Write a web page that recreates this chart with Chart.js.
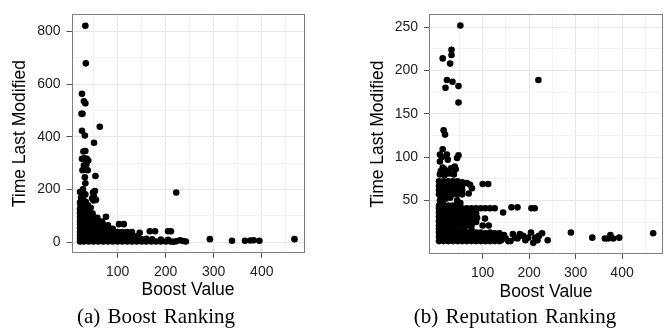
<!DOCTYPE html>
<html>
<head>
<meta charset="utf-8">
<script src="https://cdn.jsdelivr.net/npm/chart.js@4.4.1/dist/chart.umd.min.js"></script>
<style>
  body { margin: 0; background: #fff; width: 671px; height: 334px; position: relative; overflow: hidden; }
  .panel { position: absolute; top: 0; }
  .caption {
    position: absolute; top: 306px; line-height: 21px; text-align: center;
    font-family: "Liberation Serif", "Times New Roman", serif; font-size: 21px;
    word-spacing: 2px; color: #000; white-space: nowrap;
  }
</style>
</head>
<body>
<canvas id="boost-chart" class="panel" style="left:0" width="335" height="305"></canvas>
<canvas id="rep-chart" class="panel" style="left:335px" width="336" height="305"></canvas>
<div class="caption" style="left:0; width:312px">(a) Boost Ranking</div>
<div class="caption" style="left:335px; width:360px">(b) Reputation Ranking</div>
<script>
// --- Data ---

// (a) Boost Ranking: [boost value, time last modified]
const boostPoints = [
  // outliers
  [33, 822], [34, 679], [26, 563], [30, 535], [33, 527], [27, 487], [25, 487],
  [63, 438], [26, 423], [32, 405], [51, 377],
  [29, 344], [33, 346], [26, 316], [31, 318], [36, 316], [39, 310],
  [30, 291], [35, 295], [27, 273], [31, 275], [38, 273],
  [54, 251], [32, 246], [33, 223], [28, 200], [26, 181], [33, 181],
  [53, 194], [51, 173], [55, 160], [47, 166], [29, 160], [23, 139],
  [49, 188], [50, 158], [222, 188], [76, 96], [103, 68], [113, 68],
  [146, 35], [167, 41], [178, 41], [205, 41], [211, 41],
  [22, 150], [30, 142], [24, 168], [34, 152], [22, 190], [38, 140], [44, 130],
  // tail along the bottom
  [216, 1], [230, 7], [242, 2], [292, 11], [338, 5],
  [365, 5], [376, 6], [383, 7], [395, 5], [468, 11],
  // dense block
  [22, 2], [30, 2], [40, 2], [50, 2], [60, 2], [70, 2], [80, 2], [90, 2],
  [100, 2], [110, 2], [120, 2], [130, 2], [140, 2], [150, 2], [160, 2],
  [170, 2], [180, 2], [190, 2], [200, 2], [210, 2], [222, 3], [236, 4],
  [22, 12], [30, 12], [40, 12], [50, 12], [60, 12], [70, 12], [80, 12],
  [90, 12], [100, 12], [110, 12], [120, 12], [130, 12], [140, 12],
  [150, 10], [160, 12], [172, 10], [190, 9], [205, 8],
  [22, 25], [30, 25], [40, 25], [50, 25], [60, 25], [70, 25], [80, 25],
  [90, 25], [100, 25], [110, 25], [120, 25], [130, 24], [140, 22],
  [22, 38], [30, 38], [40, 38], [50, 38], [60, 38], [70, 38], [80, 38],
  [90, 38], [100, 38], [110, 38], [120, 38], [130, 38],
  [22, 52], [30, 52], [40, 52], [50, 52], [60, 52], [70, 52], [80, 52], [90, 50],
  [22, 66], [30, 66], [40, 66], [50, 66], [60, 66], [70, 66], [80, 64],
  [22, 80], [30, 80], [40, 80], [50, 80], [60, 80], [68, 78],
  [22, 95], [30, 95], [40, 95], [50, 95], [58, 92],
  [22, 110], [30, 110], [40, 110], [48, 108],
  [22, 125], [30, 125], [38, 124]
];

// (b) Reputation Ranking: [boost value, time last modified]
const repPoints = [
  // outliers
  [52, 252], [14, 214], [33, 224], [33, 218], [30, 208], [23, 189], [35, 187],
  [20, 180], [48, 182], [48, 163], [220, 189], [16, 131], [19, 126], [14, 109],
  [8, 103], [12, 100], [23, 103], [25, 97], [48, 102], [45, 99], [40, 89],
  [8, 95], [14, 88], [18, 86], [32, 87], [42, 86],
  [8, 80], [18, 79], [28, 81], [38, 80], [10, 84], [22, 84],
  // upper block
  [6, 57], [16, 57], [26, 57], [36, 57], [46, 57], [56, 57],
  [6, 62], [16, 62], [26, 62], [36, 62], [46, 62], [56, 62],
  [6, 67], [16, 67], [26, 67], [36, 67], [46, 67], [56, 67],
  [6, 72], [16, 72], [26, 72], [36, 72], [46, 72], [56, 71],
  [66, 70], [73, 68], [77, 64], [70, 58], [100, 69], [112, 69],
  [8, 50], [14, 48], [20, 52], [10, 54], [30, 53], [45, 50], [52, 47],
  // middle block
  [6, 21], [16, 21], [26, 21], [36, 21], [46, 21], [56, 21], [66, 21], [76, 21],
  [6, 26], [16, 26], [26, 26], [36, 26], [46, 26], [56, 26], [66, 26], [76, 26], [86, 25],
  [6, 31], [16, 31], [26, 31], [36, 31], [46, 31], [56, 31], [66, 31], [76, 31], [88, 30],
  [6, 36], [16, 36], [26, 36], [36, 36], [46, 36], [56, 36], [66, 36], [76, 36], [86, 35],
  [6, 41], [16, 41], [26, 41], [36, 41], [46, 41], [56, 41], [66, 41], [76, 41],
  [86, 41], [96, 41], [106, 41], [116, 41], [126, 41],
  [6, 44], [16, 44], [26, 44], [36, 44], [46, 44],
  [105, 29], [100, 21], [113, 21], [144, 36], [162, 42], [175, 42], [205, 41], [212, 41],
  [6, 17], [16, 17], [26, 17], [36, 17], [46, 17], [60, 17], [76, 16],
  // lower block
  [6, 3], [16, 3], [26, 3], [36, 3], [46, 3], [56, 3], [66, 3], [76, 3],
  [86, 3], [96, 3], [106, 3], [116, 3], [126, 3], [136, 3],
  [6, 8], [16, 8], [26, 8], [36, 8], [46, 8], [56, 8], [66, 8], [76, 8],
  [86, 8], [96, 8], [106, 8], [116, 8], [126, 8], [136, 8],
  [6, 13], [16, 13], [26, 13], [36, 13], [46, 13], [56, 13], [66, 13], [76, 13],
  [86, 13], [96, 13], [106, 12], [116, 13], [126, 12], [136, 12],
  [140, 4], [146, 10], [150, 6], [155, 3], [160, 3], [165, 11], [170, 7],
  [175, 6], [180, 11], [187, 9], [192, 4], [198, 7], [204, 13], [209, 1],
  [213, 7], [218, 4], [221, 9], [228, 12], [240, 4],
  [290, 13], [336, 7], [363, 6], [370, 6], [375, 10], [381, 6], [394, 7], [467, 12]
];

// axis ranges and breaks
const boostXRange = [4.2, 488.8];
const boostYRange = [-41.7, 865];
const repXRange = [-15.5, 488.2];
const repYRange = [-11.9, 264.8];

const xMajor = [100, 200, 300, 400];
const xMinor = [50, 150, 250, 350, 450];
const boostYMajor = [0, 200, 400, 600, 800];
const boostYMinor = [100, 300, 500, 700];
const repYMajor = [50, 100, 150, 200, 250];
const repYMinor = [25, 75, 125, 175, 225];

// --- Styling helpers ---
const SANS = "'Liberation Sans', Arial, Helvetica, sans-serif";

// ggplot-like panel border
const panelBox = {
  id: "panelBox",
  afterDatasetsDraw(chart) {
    const { ctx, chartArea: a } = chart;
    ctx.save();
    ctx.strokeStyle = "#7f7f7f";
    ctx.lineWidth = 1;
    ctx.strokeRect(Math.round(a.left) + 0.5, Math.round(a.top) + 0.5,
      Math.round(a.right - a.left) - 1, Math.round(a.bottom - a.top) - 1);
    ctx.restore();
  },
};

function axis(range, major, minor, title, extra) {
  return Object.assign({
    type: "linear",
    min: range[0],
    max: range[1],
    afterBuildTicks: (scale) => {
      scale.ticks = major.concat(minor).sort((a, b) => a - b).map((v) => ({ value: v }));
    },
    border: { display: false },
    grid: {
      color: (c) => (major.includes(c.tick.value) ? "#e6e6e6" : "#f3f3f3"),
      tickColor: (c) => (major.includes(c.tick.value) ? "#555" : "rgba(0,0,0,0)"),
      tickLength: 5,
      lineWidth: 1,
    },
    ticks: {
      autoSkip: false,
      maxRotation: 0,
      padding: 6,
      color: "#222",
      font: { family: SANS, size: 14 },
      callback: (v) => (major.includes(v) ? String(v) : ""),
    },
    title: {
      display: true,
      text: title,
      color: "#000",
      font: { family: SANS, size: 17.5 },
    },
  }, extra);
}

function makeChart(canvasId, points, xr, yr, yMajor, yMinor, opts) {
  return new Chart(document.getElementById(canvasId), {
    type: "scatter",
    data: {
      datasets: [{
        data: points.map((p) => ({ x: p[0], y: p[1] })),
        backgroundColor: "#000",
        borderWidth: 0,
        pointRadius: 3.3,
        pointHoverRadius: 3.3,
      }],
    },
    options: {
      responsive: false,
      animation: false,
      devicePixelRatio: 1,
      layout: { padding: { top: 5, right: opts.padRight, left: 0, bottom: 0 } },
      plugins: { legend: { display: false }, tooltip: { enabled: false } },
      scales: {
        x: axis(xr, xMajor, xMinor, "Boost Value", {
          afterFit: (s) => { s.height = opts.xHeight; },
        }),
        y: axis(yr, yMajor, yMinor, "Time Last Modified", {
          afterFit: (s) => { s.width = opts.yWidth; },
        }),
      },
    },
    plugins: [panelBox],
  });
}

const boostChart = makeChart("boost-chart", boostPoints, boostXRange, boostYRange,
  boostYMajor, boostYMinor, { padRight: 30.5, xHeight: 52, yWidth: 71.5 });
boostChart.options.scales.x.title.padding = { top: 4, bottom: 4.5 };
boostChart.options.scales.y.title.padding = { top: 9.5, bottom: 0 };
boostChart.update();

const repChart = makeChart("rep-chart", repPoints, repXRange, repYRange,
  repYMajor, repYMinor, { padRight: 8, xHeight: 51, yWidth: 94 });
repChart.options.scales.x.title.padding = { top: 4, bottom: 2.5 };
repChart.options.scales.y.title.padding = { top: 33, bottom: 0 };
repChart.update();
</script>
</body>
</html>
